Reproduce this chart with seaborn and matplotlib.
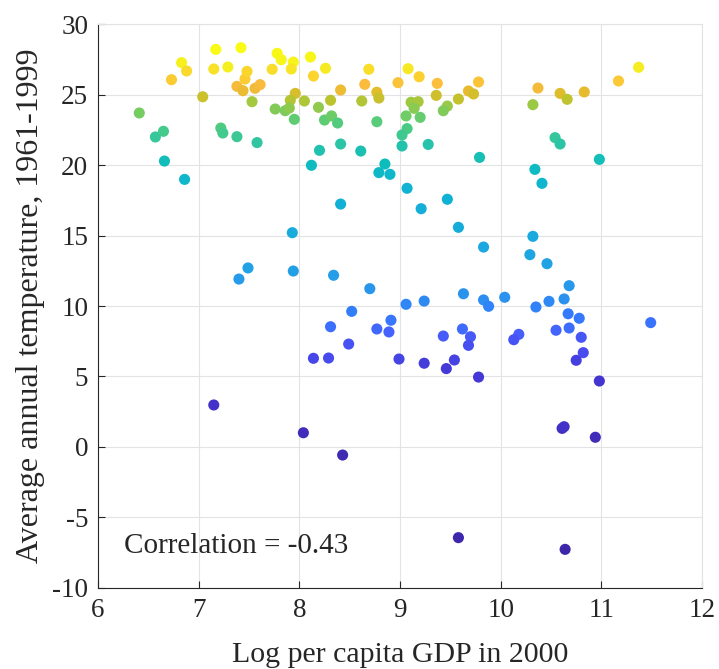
import numpy as np
import pandas as pd
import matplotlib
matplotlib.use("Agg")
import matplotlib.pyplot as plt
import seaborn as sns
from matplotlib.colors import LinearSegmentedColormap

# data
log_gdp = [
    6.41, 6.57, 6.65, 6.66, 6.86, 6.73, 6.83, 6.88, 7.04, 7.17,
    7.15, 7.29, 7.42, 7.22, 7.24, 7.38, 7.58, 7.38, 7.44, 7.46,
    7.48, 7.56, 7.61, 7.53, 7.73, 7.78, 7.82, 7.94, 7.92, 7.96,
    7.91, 7.76, 7.86, 7.90, 7.95, 8.05, 8.11, 8.14, 8.26, 8.19,
    8.31, 8.25, 8.32, 8.38, 8.41, 8.41, 8.20, 8.12, 8.41, 8.61,
    8.62, 8.65, 8.69, 8.77, 8.79, 8.77, 8.85, 8.79, 8.90, 8.98,
    9.08, 9.19, 9.37, 9.36, 9.58, 9.68, 9.73, 9.78, 9.11, 9.18,
    9.14, 9.06, 9.20, 9.47, 9.43, 9.07, 9.02, 9.02, 9.28, 9.79,
    9.07, 9.21, 9.47, 10.34, 10.41, 10.98, 10.54, 10.59, 10.32, 10.37,
    10.59, 10.66, 10.83, 11.17, 11.37, 7.93, 7.49, 7.40, 7.94, 8.34,
    8.70, 8.52, 8.31, 8.77, 8.91, 8.89, 8.49, 8.14, 8.29, 8.99,
    7.15, 9.06, 9.58, 9.83, 10.32, 10.29, 10.46, 10.68, 9.24, 9.63,
    9.83, 9.88, 10.04, 10.35, 10.48, 10.63, 10.67, 10.78, 11.49, 10.68,
    10.55, 10.80, 10.82, 10.75, 10.98, 9.62, 9.70, 9.68, 9.43, 10.18,
    10.13, 9.24, 9.54, 9.46, 9.78, 8.04, 8.43, 10.61, 10.63, 10.94,
    9.58, 10.64,
]
avg_temp = [
    23.69, 21.99, 22.39, 20.28, 18.98, 26.05, 27.26, 26.67, 24.84, 28.20,
    26.81, 26.95, 28.32, 22.62, 22.27, 22.01, 21.59, 25.58, 25.27, 26.10,
    26.64, 25.44, 25.70, 24.49, 26.79, 27.92, 27.47, 27.30, 26.81, 25.08,
    24.59, 23.97, 23.85, 24.04, 23.24, 24.54, 27.66, 26.31, 26.86, 24.09,
    24.59, 23.19, 23.48, 22.98, 25.32, 21.49, 21.04, 19.98, 17.23, 20.99,
    24.54, 25.72, 26.79, 25.16, 24.75, 23.07, 20.07, 19.46, 19.34, 25.84,
    26.83, 26.26, 25.79, 24.94, 24.68, 25.25, 25.04, 25.89, 24.45, 24.49,
    24.02, 23.48, 23.38, 24.18, 23.85, 22.58, 22.13, 21.35, 21.46, 20.54,
    18.35, 16.90, 17.57, 19.69, 18.70, 20.40, 21.94, 21.49, 24.28, 25.46,
    25.08, 24.66, 25.18, 25.96, 26.93, 15.20, 12.70, 11.91, 12.48, 12.18,
    11.23, 9.62, 8.53, 8.37, 8.99, 8.16, 7.30, 6.29, 6.31, 6.24,
    2.98, 10.12, 15.58, 14.18, 14.94, 13.64, 13.00, 11.44, 10.35, 10.87,
    10.43, 9.98, 10.62, 9.93, 10.33, 10.50, 9.45, 9.13, 8.82, 8.44,
    8.28, 7.78, 6.69, 6.15, 4.68, 8.37, 7.82, 7.21, 7.87, 7.99,
    7.61, 5.94, 6.17, 5.56, 4.96, 1.01, -0.57, 1.32, 1.44, 0.69,
    -6.43, -7.26,
]
corr_label = "Correlation = -0.43"

df = pd.DataFrame({"gdp": log_gdp, "temp": avg_temp})
# colour follows the rank of the temperature
df["rank"] = df["temp"].rank(method="first")

# parula-like colormap
parula = LinearSegmentedColormap.from_list("parula", [
    (0.2422, 0.1504, 0.6603), (0.2704, 0.2138, 0.8346), (0.2813, 0.2985, 0.9397),
    (0.2710, 0.3860, 0.9898), (0.2006, 0.4803, 0.9906), (0.1716, 0.5655, 0.9393),
    (0.1321, 0.6363, 0.8932), (0.0628, 0.6972, 0.8355), (0.0504, 0.7423, 0.7359),
    (0.1741, 0.7678, 0.6527), (0.2809, 0.7964, 0.5266), (0.4463, 0.8024, 0.3904),
    (0.6024, 0.7896, 0.2726), (0.7468, 0.7654, 0.1782), (0.8903, 0.7353, 0.1695),
    (0.9842, 0.7330, 0.2446), (0.9835, 0.8280, 0.1817), (0.9608, 0.9262, 0.1344),
    (0.9769, 0.9839, 0.0805),
])

sns.set_style("whitegrid", {"grid.color": "#e3e3e3"})
plt.rcParams["font.family"] = ["Liberation Serif", "DejaVu Serif"]
plt.rcParams["axes.unicode_minus"] = False

fig = plt.figure(figsize=(7.19, 6.69), dpi=100)
ax = fig.add_axes([0.1363, 0.1211, 0.8401, 0.8430])

sns.scatterplot(data=df, x="gdp", y="temp", hue="rank", palette=parula,
                s=64, linewidth=0, legend=False, ax=ax, zorder=3)

ax.set_xlim(6, 12)
ax.set_ylim(-10, 30)
ax.set_xticks(range(6, 13))
ax.set_yticks(range(-10, 31, 5))
ax.tick_params(direction="in", length=5, width=0.8, colors="#262626",
               labelsize=19.5, pad=7, left=True, bottom=True)
ax.set_xlabel("Log per capita GDP in 2000", fontsize=21.5, labelpad=14)
ax.set_ylabel("Average annual temperature, 1961-1999", fontsize=23, labelpad=5)

for side in ["left", "bottom"]:
    ax.spines[side].set_color("#262626")
    ax.spines[side].set_linewidth(0.8)
for side in ["top", "right"]:
    ax.spines[side].set_color("#e3e3e3")

ax.text(6.26, -7.0, corr_label, fontsize=21, va="center", ha="left")

fig.savefig("out.png", dpi=100)
